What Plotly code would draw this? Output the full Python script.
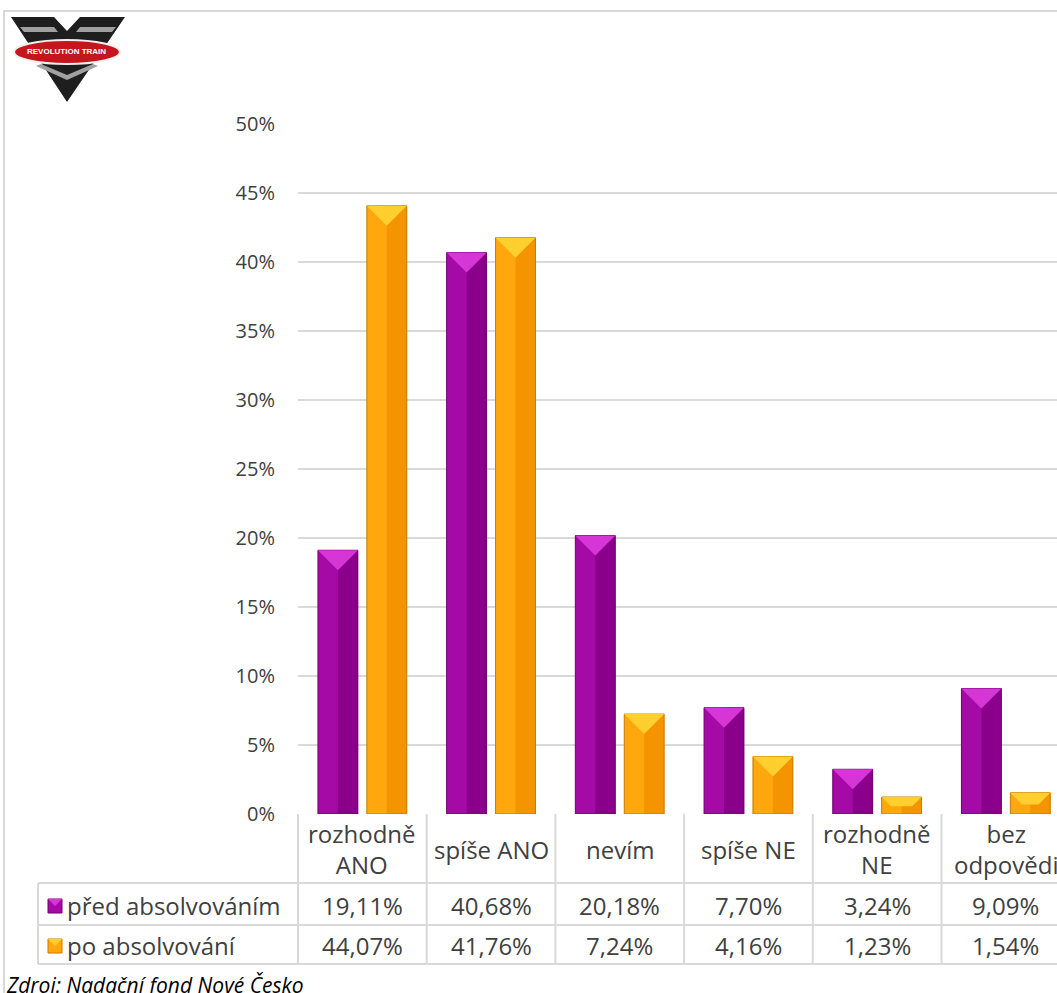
import plotly.graph_objects as go

# ---------------- data ----------------
categories = ["rozhodně<br>ANO", "spíše ANO", "nevím", "spíše NE", "rozhodně<br>NE", "bez<br>odpovědi"]
series_names = ["před absolvováním", "po absolvování"]
pred_values = [19.11, 40.68, 20.18, 7.70, 3.24, 9.09]
po_values = [44.07, 41.76, 7.24, 4.16, 1.23, 1.54]
y_ticks = [0, 5, 10, 15, 20, 25, 30, 35, 40, 45, 50]
source_text = "Zdroj: Nadační fond Nové Česko"

# ---------------- layout geometry ----------------
W, H = 1057, 993
L, R, T, B = 298, 0, 124, 179
PW, PH = W - L - R, H - T - B
COL = 128.7                      # px per category column
XMAX = -0.5 + PW / COL
PPU = PH / 50.0                  # px per percent
FONT = "Open Sans"
TXT = "#404040"
GRID = "#d9d9d9"
TSIZE = 24


def px(x):
    return (x - L) / PW


def py(y):
    return (H - B - y) / PH


def fmt(v):
    return f"{v:.2f}".replace(".", ",") + "%"


idx = list(range(len(categories)))
BW = 0.31
styles = [
    dict(vals=pred_values, off=-0.345, left="#a60aa6", right="#8b008b", top="#d636d6", edge="#6e006e"),
    dict(vals=po_values, off=0.035, left="#ffa70d", right="#f39400", top="#ffcf30", edge="#c77a00"),
]

fig = go.Figure()
for name, st in zip(series_names, styles):
    vals = st["vals"]
    fig.add_trace(go.Bar(x=idx, y=vals, offset=st["off"], width=BW, name=name,
                         marker=dict(color=st["left"], line=dict(width=0)),
                         hoverinfo="skip", showlegend=False))
    fig.add_trace(go.Bar(x=idx, y=vals, offset=st["off"] + BW / 2, width=BW / 2,
                         marker=dict(color=st["right"], line=dict(width=0)),
                         hoverinfo="skip", showlegend=False))
    # bevelled top face
    tx, ty = [], []
    bw_px = BW * COL
    for i, v in zip(idx, vals):
        d_px = min(bw_px / 2, v * PPU * 0.55)
        dx = d_px / COL
        dy = d_px / PPU
        x0 = i + st["off"]
        x1 = x0 + BW
        tx += [x0, x1, x1 - dx, x0 + dx, x0, None]
        ty += [v, v, v - dy, v - dy, v, None]
    fig.add_trace(go.Scatter(x=tx, y=ty, mode="lines", fill="toself", fillcolor=st["top"],
                             line=dict(width=0, color=st["top"]), hoverinfo="skip",
                             showlegend=False))
    fig.add_trace(go.Bar(x=idx, y=vals, offset=st["off"], width=BW,
                         marker=dict(color="rgba(0,0,0,0)", line=dict(width=1, color=st["edge"])),
                         hoverinfo="skip", showlegend=False))

shapes = []
annotations = []

# outer frame
shapes.append(dict(type="rect", xref="paper", yref="paper", x0=px(4), y0=py(11), x1=px(1080), y1=py(1030),
                   line=dict(color=GRID, width=2), fillcolor="rgba(0,0,0,0)", layer="below"))

# data table lines
for yy in [883, 925, 964]:
    shapes.append(dict(type="line", xref="paper", yref="paper", x0=px(38), x1=px(1080), y0=py(yy), y1=py(yy),
                       line=dict(color=GRID, width=2)))
shapes.append(dict(type="line", xref="paper", yref="paper", x0=px(38), x1=px(38), y0=py(883), y1=py(964),
                   line=dict(color=GRID, width=2)))
shapes.append(dict(type="line", xref="paper", yref="paper", x0=0, x1=0, y0=py(814), y1=py(964),
                   line=dict(color=GRID, width=2)))
for i in idx[:-1]:
    shapes.append(dict(type="line", xref="x", yref="paper", x0=i + 0.5, x1=i + 0.5, y0=py(814), y1=py(964),
                       line=dict(color=GRID, width=2)))

# header labels and values
for i, c in enumerate(categories):
    annotations.append(dict(x=i, y=py(849), xref="x", yref="paper", text=c, showarrow=False,
                            font=dict(family=FONT, size=TSIZE, color=TXT), xanchor="center", yanchor="middle"))
for row_y, vals in zip([905, 945], [pred_values, po_values]):
    for i, v in zip(idx, vals):
        annotations.append(dict(x=i, y=py(row_y), xref="x", yref="paper", text=fmt(v), showarrow=False,
                                font=dict(family=FONT, size=TSIZE, color=TXT), xanchor="center", yanchor="middle"))

# row labels with swatches
for row_y, name, st in zip([905, 945], series_names, styles):
    annotations.append(dict(x=px(65), y=py(row_y), xref="paper", yref="paper", text=name, showarrow=False,
                            font=dict(family=FONT, size=TSIZE, color=TXT), xanchor="left", yanchor="middle"))
    shapes.append(dict(type="rect", xref="paper", yref="paper", x0=px(48), x1=px(62),
                       y0=py(row_y - 6), y1=py(row_y + 8), fillcolor=st["left"],
                       line=dict(color=st["edge"], width=1)))
    shapes.append(dict(type="path", xref="paper", yref="paper",
                       path=f"M {px(48)},{py(row_y - 6)} L {px(62)},{py(row_y - 6)} L {px(55)},{py(row_y + 1)} Z",
                       fillcolor=st["top"], line=dict(width=0)))

# source
annotations.append(dict(x=px(4), y=py(985), xref="paper", yref="paper", text="<i>" + source_text + "</i>",
                        showarrow=False, font=dict(family=FONT, size=21, color="#000000"),
                        xanchor="left", yanchor="middle"))

# logo (Revolution Train)
def P(pts):
    s = ""
    for k, (a, b) in enumerate(pts):
        s += ("M " if k == 0 else " L ") + f"{px(a)},{py(b)}"
    return s + " Z"


shapes.append(dict(type="path", xref="paper", yref="paper",
                   path=P([(11, 17), (54, 17), (67, 31), (80, 17), (125, 17), (67, 102)]),
                   fillcolor="#1e1e1e", line=dict(width=0)))
for pts in [[(20, 27), (54, 27), (58, 32), (24, 32)], [(80, 27), (116, 27), (112, 32), (76, 32)],
            [(36, 66), (67, 80), (98, 66), (93, 64), (67, 75), (41, 64)]]:
    shapes.append(dict(type="path", xref="paper", yref="paper", path=P(pts),
                       fillcolor="#a0a0a0", line=dict(width=0)))
shapes.append(dict(type="circle", xref="paper", yref="paper", x0=px(14), x1=px(120), y0=py(40), y1=py(64),
                   fillcolor="#c4161c", line=dict(color="#f0f0f0", width=2)))
annotations.append(dict(x=px(67), y=py(52), xref="paper", yref="paper", text="<b>REVOLUTION TRAIN</b>",
                        showarrow=False, font=dict(family="Liberation Sans", size=8, color="#ffffff"),
                        xanchor="center", yanchor="middle"))

fig.update_layout(
    width=W, height=H,
    margin=dict(l=L, r=R, t=T, b=B, pad=0),
    paper_bgcolor="white", plot_bgcolor="white",
    barmode="overlay",
    shapes=shapes, annotations=annotations,
    showlegend=False,
    xaxis=dict(range=[-0.5, XMAX], showgrid=False, showticklabels=False, zeroline=False,
               showline=False, fixedrange=True),
    yaxis=dict(range=[0, 50], tickvals=y_ticks, ticktext=[f"{t}%" for t in y_ticks],
               showgrid=True, gridcolor=GRID, gridwidth=2, zeroline=False, showline=False,
               ticks="", ticklabelstandoff=22,
               tickfont=dict(family=FONT, size=20, color=TXT), fixedrange=True),
)

fig.write_html("out.html", config={"displayModeBar": False},
               post_script="document.body.style.margin='0';document.body.style.overflow='hidden';")
